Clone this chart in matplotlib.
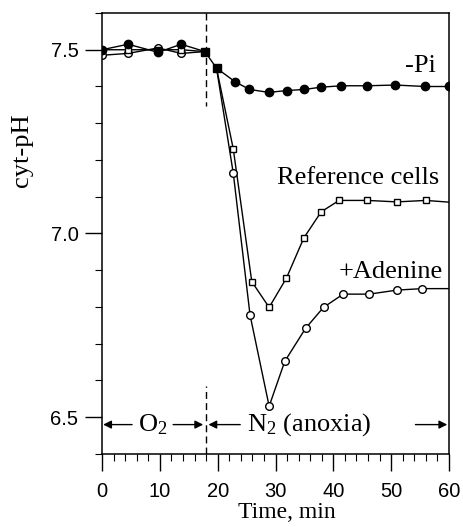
import numpy as np
import matplotlib.pyplot as plt
from matplotlib.ticker import MultipleLocator

# datos
t_pre = [0, 4.5, 9.7, 13.7]
ph_pi_pre = [7.50, 7.515, 7.493, 7.515]
ph_ref_pre = [7.50, 7.50, 7.50, 7.50]
ph_ade_pre = [7.485, 7.49, 7.505, 7.49]

# puntos comunes (cuadrados llenos)
t_com = [17.8, 19.8]
ph_com = [7.495, 7.45]

t_pi = [23.0, 25.5, 28.8, 32.0, 35.0, 37.8, 41.4, 45.9, 50.7, 55.9, 60.0]
ph_pi = [7.413, 7.392, 7.384, 7.389, 7.392, 7.398, 7.402, 7.402, 7.404, 7.400, 7.400]

t_ref = [22.7, 25.9, 28.9, 31.9, 34.9, 37.9, 41.0, 45.9, 51.0, 56.0, 62.0]
ph_ref = [7.23, 6.869, 6.799, 6.879, 6.988, 7.059, 7.090, 7.090, 7.086, 7.090, 7.083]

t_ade = [22.7, 25.6, 28.9, 31.6, 35.2, 38.3, 41.7, 46.2, 51.0, 55.4, 62.0]
ph_ade = [7.164, 6.778, 6.530, 6.652, 6.742, 6.799, 6.835, 6.835, 6.846, 6.850, 6.850]

serif = 'Liberation Serif'
sans = 'Liberation Sans'
plt.rcParams['mathtext.fontset'] = 'custom'
plt.rcParams['mathtext.rm'] = serif
plt.rcParams['mathtext.it'] = serif + ':italic'

fig = plt.figure(figsize=(4.63, 5.27), dpi=100)
ax = fig.add_axes([102/463, 1-454/527, 347/463, 441/527])

lw = 1.0
# antes de la anoxia
ax.plot(t_pre + [t_com[0]], ph_ade_pre + [ph_com[0]], '-', color='k', lw=lw,
        marker='o', mfc='white', mec='k', ms=5.5, markevery=[0, 1, 2, 3])
ax.plot(t_pre + [t_com[0]], ph_ref_pre + [ph_com[0]], '-', color='k', lw=lw,
        marker='s', mfc='white', mec='k', ms=5, markevery=[0, 1, 2, 3])
ax.plot(t_pre + [t_com[0]], ph_pi_pre + [ph_com[0]], '-', color='k', lw=lw,
        marker='o', mfc='k', mec='k', ms=6, markevery=[0, 1, 2, 3])

# -Pi
ax.plot([t_com[-1]] + t_pi, [ph_com[-1]] + ph_pi, '-', color='k', lw=lw,
        marker='o', mfc='k', mec='k', ms=6, markevery=list(range(1, len(t_pi) + 1)))
# celulas de referencia
ax.plot([t_com[-1]] + t_ref, [ph_com[-1]] + ph_ref, '-', color='k', lw=lw,
        marker='s', mfc='white', mec='k', ms=5, markevery=list(range(1, len(t_ref))))
# +adenina
ax.plot([t_com[-1]] + t_ade, [ph_com[-1]] + ph_ade, '-', color='k', lw=lw,
        marker='o', mfc='white', mec='k', ms=5.5, markevery=list(range(1, len(t_ade))))

ax.plot(t_com, ph_com, '-', color='k', lw=lw, marker='s', mfc='k', mec='k', ms=6)

# linea vertical discontinua en t = 18
ax.plot([18, 18], [7.6, 7.347], color='k', lw=1, ls=(0, (5, 3)))
ax.plot([18, 18], [6.4, 6.585], color='k', lw=1, ls=(0, (5, 3)))

ax.set_xlim(0, 60)
ax.set_ylim(6.4, 7.6)
ax.set_xticks([0, 10, 20, 30, 40, 50, 60])
ax.set_yticks([6.5, 7.0, 7.5])
ax.set_yticklabels(['6.5', '7.0', '7.5'])
ax.xaxis.set_minor_locator(MultipleLocator(2))
ax.yaxis.set_minor_locator(MultipleLocator(0.1))
ax.tick_params(which='major', direction='out', length=12, width=1, labelsize=14.5)
ax.tick_params(which='minor', direction='out', length=5, width=0.8)
ax.tick_params(axis='x', pad=8)
ax.tick_params(axis='y', pad=5)
for lab in ax.get_xticklabels() + ax.get_yticklabels():
    lab.set_fontfamily(sans)
for s in ax.spines.values():
    s.set_linewidth(1.1)

ax.set_xlabel('Time, min', fontfamily=serif, fontsize=17)
ax.xaxis.set_label_coords(0.533, -0.108)
ax.set_ylabel('cyt-pH', fontfamily=serif, fontsize=19)
ax.yaxis.set_label_coords(-0.20, 0.69)

# etiquetas de series
fs = 19
ax.text(55, 7.456, '-Pi', fontfamily=serif, fontsize=fs, ha='center', va='center')
ax.text(58.3, 7.15, 'Reference cells', fontfamily=serif, fontsize=fs, ha='right', va='center')
ax.text(59.0, 6.894, '+Adenine', fontfamily=serif, fontsize=fs, ha='right', va='center')

# flechas O2 / N2
ya = 6.48
ap = dict(arrowstyle='-|>', color='k', lw=1, mutation_scale=12, shrinkA=0, shrinkB=0)
ax.annotate('', xy=(0.2, ya), xytext=(5.2, ya), arrowprops=ap)
ax.annotate('', xy=(17.5, ya), xytext=(12.3, ya), arrowprops=ap)
ax.annotate('', xy=(18.4, ya), xytext=(23.9, ya), arrowprops=ap)
ax.annotate('', xy=(59.7, ya), xytext=(54.2, ya), arrowprops=ap)
ax.text(8.7, ya, 'O$_2$', fontfamily=serif, fontsize=fs, ha='center', va='center')
ax.text(35.8, ya, 'N$_2$ (anoxia)', fontfamily=serif, fontsize=fs, ha='center', va='center')

fig.savefig('out.png', dpi=100)
